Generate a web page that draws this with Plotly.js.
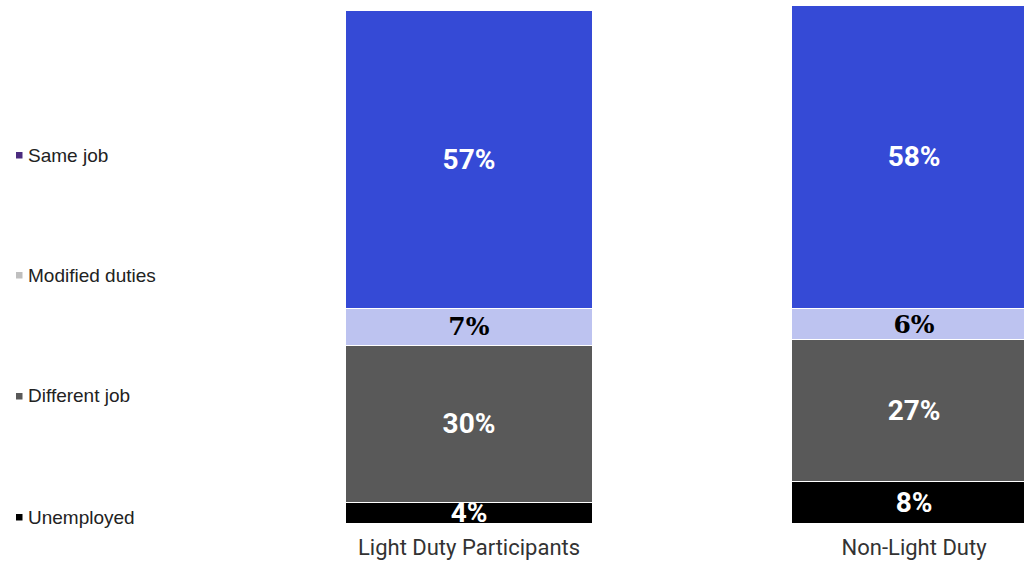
<!DOCTYPE html>
<html>
<head>
<meta charset="utf-8">
<script src="https://cdn.plot.ly/plotly-3.0.1.min.js"></script>
<style>html,body{margin:0;padding:0;background:#fff;}#chart{width:1024px;height:562px;}</style>
</head>
<body>
<div id="chart"></div>
<script>
const categories = ["Light Duty Participants", "Non-Light Duty"];
const seriesNames = ["Unemployed", "Different job", "Modified duties", "Same job"];
const unemployed = [4, 8];
const differentJob = [30, 27];
const modifiedDuties = [7, 6];
const sameJob = [57, 58];

const barColors = ["#000000", "#595959", "#BDC3F0", "#354AD6"];
const textColors = ["#FFFFFF", "#FFFFFF", "#000000", "#FFFFFF"];
const legendColors = ["#000000", "#595959", "#BFBFBF", "#4B2B7F"];
const values = [unemployed, differentJob, modifiedDuties, sameJob];

const W = 1024, H = 562, ML = 200, MB = 39;
const plotW = W - ML, plotH = H - MB;

const traces = values.map((v, i) => ({
  type: "bar",
  x: categories,
  y: v,
  name: seriesNames[i],
  showlegend: false,
  marker: {color: barColors[i], line: {color: "#FFFFFF", width: 1}},
  text: v.map(d => d + "%"),
  textposition: "inside",
  insidetextanchor: "middle",
  textangle: 0,
  constraintext: "none",
  cliponaxis: true,
  textfont: {
    family: i === 2 ? "DejaVu Serif" : "Roboto",
    size: i === 2 ? 25 : 28,
    color: textColors[i],
    weight: "bold"
  },
  hoverinfo: "skip"
}));

// Legend (drawn on the left, top to bottom: Same job ... Unemployed)
const legendRowsPx = [517, 396, 275, 155]; // vertical centre of each entry, same order as seriesNames
const annotations = [];
const shapes = [];
seriesNames.forEach((name, i) => {
  const yc = legendRowsPx[i];
  annotations.push({
    xref: "paper", yref: "paper",
    x: (26 - ML) / plotW, y: (plotH - yc) / plotH,
    xanchor: "left", yanchor: "middle",
    text: name, showarrow: false,
    font: {family: "Liberation Sans, Arial, sans-serif", size: 19, color: "#222222"}
  });
  shapes.push({
    type: "rect", xref: "paper", yref: "paper",
    x0: (16 - ML) / plotW, x1: (22.5 - ML) / plotW,
    y0: (plotH - yc - 3.5) / plotH, y1: (plotH - yc + 3) / plotH,
    fillcolor: legendColors[i], line: {width: 0}
  });
});

const layout = {
  width: W,
  height: H,
  margin: {l: ML, r: 0, t: 0, b: MB},
  paper_bgcolor: "#FFFFFF",
  plot_bgcolor: "#FFFFFF",
  barmode: "stack",
  bargap: 0.447,
  showlegend: false,
  annotations: annotations,
  shapes: shapes,
  xaxis: {
    type: "category",
    range: [-0.6045, 1.247],
    showgrid: false, zeroline: false, showline: false,
    ticks: "",
    ticklabelstandoff: 9,
    tickfont: {family: "Roboto", size: 22, color: "#333333"},
    fixedrange: true
  },
  yaxis: {
    range: [0, 100],
    visible: false,
    showgrid: false, zeroline: false,
    fixedrange: true
  }
};

Plotly.newPlot("chart", traces, layout, {displayModeBar: false, staticPlot: true});
</script>
</body>
</html>
